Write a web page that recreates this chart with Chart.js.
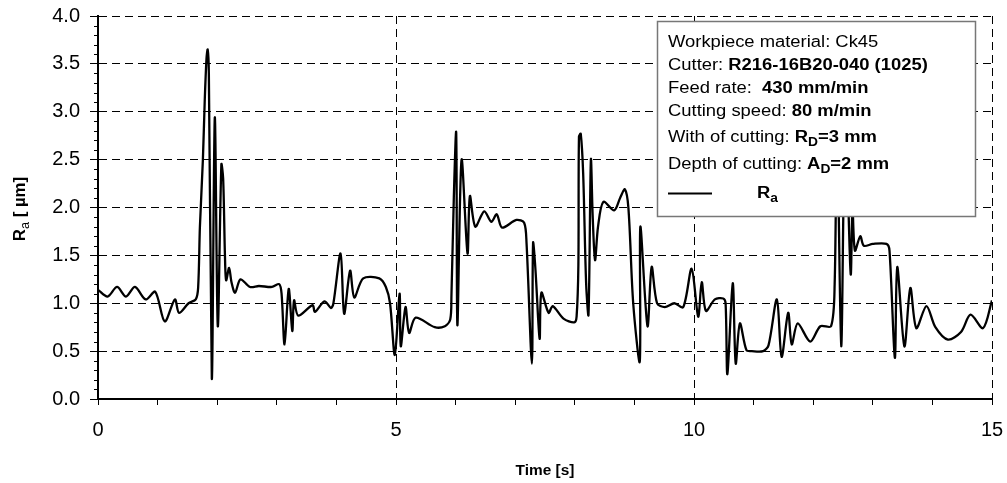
<!DOCTYPE html>
<html>
<head>
<meta charset="utf-8">
<script src="https://cdn.jsdelivr.net/npm/chart.js@4.4.1/dist/chart.umd.min.js"></script>
<style>
  html, body { margin: 0; padding: 0; background: #fff; }
  #raChart { display: block; }
</style>
</head>
<body>
<canvas id="raChart" width="1007" height="483"></canvas>
<script>
// === DATA ===
const timeS = [
  0.00, 0.16, 0.32, 0.47, 0.62, 0.80, 0.96, 1.12, 1.29, 1.36, 1.52, 1.64, 1.68, 1.71, 1.76, 1.79, 1.82, 1.84, 1.86, 1.91,
  1.96, 2.01, 2.07, 2.10, 2.13, 2.15, 2.20, 2.24, 2.30, 2.39, 2.55, 2.70, 2.92, 3.04, 3.08, 3.13, 3.20, 3.26, 3.29, 3.36,
  3.60, 3.64, 3.80, 3.91, 3.95, 4.07, 4.13, 4.23, 4.30, 4.45, 4.72, 4.83, 4.90, 4.98, 5.06, 5.08, 5.16, 5.22, 5.33, 5.65,
  5.82, 5.91, 5.93, 5.97, 6.01, 6.03, 6.10, 6.20, 6.24, 6.33, 6.48, 6.60, 6.69, 6.78, 7.02, 7.15, 7.19, 7.28, 7.30, 7.34,
  7.41, 7.44, 7.56, 7.63, 7.81, 7.99, 8.03, 8.06, 8.07, 8.10, 8.14, 8.19, 8.23, 8.27, 8.30, 8.34, 8.39, 8.48, 8.66, 8.76,
  8.84, 8.90, 8.98, 9.09, 9.10, 9.22, 9.29, 9.38, 9.51, 9.67, 9.82, 9.96, 10.07, 10.13, 10.20, 10.35, 10.49, 10.53, 10.56, 10.65,
  10.70, 10.77, 10.88, 10.97, 11.16, 11.25, 11.39, 11.47, 11.58, 11.64, 11.74, 11.95, 12.12, 12.30, 12.36, 12.40, 12.47, 12.53, 12.58, 12.63,
  12.66, 12.70, 12.79, 12.85, 13.00, 13.23, 13.28, 13.37, 13.41, 13.53, 13.63, 13.73, 13.90, 14.05, 14.26, 14.48, 14.64, 14.85, 15.00
];
const raUm = [
  1.14, 1.07, 1.17, 1.07, 1.17, 1.04, 1.12, 0.81, 1.04, 0.90, 1.00, 1.04, 1.16, 1.80, 2.50, 3.10, 3.55, 3.65, 3.40, 0.21,
  2.94, 0.76, 2.45, 2.30, 1.50, 1.24, 1.37, 1.22, 1.11, 1.25, 1.17, 1.18, 1.17, 1.20, 1.10, 0.57, 1.15, 0.71, 1.03, 0.87,
  0.98, 0.91, 1.02, 0.95, 1.00, 1.52, 0.89, 1.34, 1.06, 1.26, 1.26, 1.17, 1.00, 0.46, 1.10, 0.55, 0.96, 0.69, 0.85, 0.75,
  0.76, 0.83, 1.07, 2.10, 2.78, 0.77, 2.50, 1.52, 2.12, 1.80, 1.96, 1.85, 1.93, 1.79, 1.87, 1.84, 1.63, 0.37, 1.63, 1.35,
  0.63, 1.11, 0.90, 0.97, 0.84, 0.80, 0.86, 1.40, 2.74, 2.77, 2.36, 1.21, 0.88, 2.50, 1.91, 1.45, 1.80, 2.06, 1.97, 2.10,
  2.19, 1.99, 1.00, 0.39, 1.80, 0.76, 1.38, 1.00, 0.96, 1.00, 0.96, 1.36, 0.86, 1.22, 0.92, 1.04, 1.05, 1.00, 0.26, 1.21,
  0.37, 0.79, 0.51, 0.50, 0.50, 0.56, 1.04, 0.44, 0.90, 0.57, 0.79, 0.60, 0.76, 0.76, 1.20, 2.90, 0.55, 2.80, 2.20, 1.30,
  2.00, 1.55, 1.70, 1.60, 1.62, 1.62, 1.55, 0.43, 1.38, 0.55, 1.16, 0.74, 0.97, 0.75, 0.62, 0.70, 0.88, 0.74, 1.03
];

const xRange = [0, 15];
const yRange = [0, 4];
const xTickLabels = [0, 5, 10, 15];

// teks kotak keterangan (b = tebal, sub = subskrip)
const infoLines = [
  [{ t: 'Workpiece material: Ck45' }],
  [{ t: 'Cutter: ' }, { t: 'R216-16B20-040 (1025)', b: true }],
  [{ t: 'Feed rate:  ' }, { t: '430 mm/min', b: true }],
  [{ t: 'Cutting speed: ' }, { t: '80 m/min', b: true }],
  [{ t: 'With of cutting: ' }, { t: 'R', b: true }, { t: 'D', b: true, sub: true }, { t: '=3 mm', b: true }],
  [{ t: 'Depth of cutting: ' }, { t: 'A', b: true }, { t: 'D', b: true, sub: true }, { t: '=2 mm', b: true }]
];
const seriesLabel = [{ t: 'R', b: true }, { t: 'a', b: true, sub: true }];
const yTitle = [{ t: 'R', b: true }, { t: 'a', sub: true }, { t: ' [ \u00b5m]', b: true }];
const xTitle = [{ t: 'Time [s]', b: true }];

// === HELPER TEKS ===
const FONT = "'Liberation Sans', Arial, sans-serif";
const TEXT_SX = 1.15;

const richWidth = (ctx, segs, size, sx) => {
  let w = 0;
  segs.forEach(seg => {
    const fs = seg.sub ? Math.round(size * 0.72) : size;
    ctx.font = `${seg.b ? 'bold ' : ''}${fs}px ${FONT}`;
    w += ctx.measureText(seg.t).width * sx;
  });
  return w;
};

const drawRich = (ctx, segs, x, y, size, sx) => {
  let cx = x;
  segs.forEach(seg => {
    const fs = seg.sub ? Math.round(size * 0.72) : size;
    ctx.font = `${seg.b ? 'bold ' : ''}${fs}px ${FONT}`;
    const dy = seg.sub ? size * 0.25 : 0;
    ctx.save();
    ctx.translate(cx, y + dy);
    ctx.scale(sx, 1);
    ctx.fillText(seg.t, 0, 0);
    ctx.restore();
    cx += ctx.measureText(seg.t).width * sx;
  });
};

// === PLUGIN: tick kecil, judul sumbu, kotak keterangan ===
const extrasPlugin = {
  id: 'extras',
  afterDraw(chart) {
    const { ctx, chartArea } = chart;
    const yScale = chart.scales.y;

    // tick minor sumbu Y setiap 0.1
    ctx.save();
    ctx.strokeStyle = '#000';
    ctx.lineWidth = 1;
    for (let i = 1; i < 40; i++) {
      if (i % 5 === 0) continue;
      const py = Math.round(yScale.getPixelForValue(i / 10)) + 0.5;
      ctx.beginPath();
      ctx.moveTo(chartArea.left - 4, py);
      ctx.lineTo(chartArea.left, py);
      ctx.stroke();
    }
    ctx.restore();

    // judul sumbu
    ctx.save();
    ctx.fillStyle = '#000';
    ctx.textBaseline = 'alphabetic';
    const xw = richWidth(ctx, xTitle, 14, 1.1);
    drawRich(ctx, xTitle, (chartArea.left + chartArea.right) / 2 - xw / 2, 475, 14, 1.1);

    ctx.translate(25, 209);
    ctx.rotate(-Math.PI / 2);
    const yw = richWidth(ctx, yTitle, 16, 1.05);
    drawRich(ctx, yTitle, -yw / 2, 0, 16, 1.05);
    ctx.restore();
  },
  afterDatasetsDraw(chart) {
    const { ctx } = chart;
    const box = { left: 657.5, top: 21.5, right: 975.5, bottom: 216.5 };

    ctx.save();
    ctx.fillStyle = '#fff';
    ctx.fillRect(box.left, box.top, box.right - box.left, box.bottom - box.top);
    ctx.strokeStyle = '#777';
    ctx.lineWidth = 1.5;
    ctx.strokeRect(box.left, box.top, box.right - box.left, box.bottom - box.top);

    ctx.fillStyle = '#000';
    const baselines = [47, 70, 93, 116, 142, 169];
    infoLines.forEach((segs, i) => drawRich(ctx, segs, 668, baselines[i], 16, TEXT_SX));

    ctx.strokeStyle = '#000';
    ctx.lineWidth = 2;
    ctx.beginPath();
    ctx.moveTo(668, 193.5);
    ctx.lineTo(712, 193.5);
    ctx.stroke();
    drawRich(ctx, seriesLabel, 757, 198, 16, TEXT_SX);
    ctx.restore();
  }
};

// === GRAFIK ===
const points = timeS.map((t, i) => ({ x: t, y: raUm[i] }));

new Chart(document.getElementById('raChart'), {
  type: 'line',
  data: {
    datasets: [{
      label: 'Ra',
      data: points,
      borderColor: '#000',
      borderWidth: 2.3,
      pointRadius: 0,
      fill: false,
      tension: 0.3
    }]
  },
  options: {
    responsive: false,
    animation: false,
    devicePixelRatio: 1,
    layout: { padding: { left: 0, top: 16, right: 15, bottom: 0 } },
    plugins: {
      legend: { display: false },
      tooltip: { enabled: false }
    },
    scales: {
      x: {
        type: 'linear',
        min: xRange[0],
        max: xRange[1],
        afterFit: (scale) => {
          scale.height = 84;
          scale.paddingLeft = 0;
          scale.paddingRight = 0;
        },
        ticks: {
          stepSize: 1,
          autoSkip: false,
          maxRotation: 0,
          padding: 13,
          color: '#000',
          font: { family: FONT, size: 20 },
          callback: (v) => (xTickLabels.includes(v) ? String(v) : '')
        },
        grid: {
          color: (c) => (c.tick && c.tick.value % 5 === 0 && c.tick.value !== 0 ? '#000' : 'rgba(0,0,0,0)'),
          tickColor: '#000',
          tickLength: 6,
          lineWidth: 1
        },
        border: { display: true, color: '#000', width: 2, dash: [8, 5] }
      },
      y: {
        min: yRange[0],
        max: yRange[1],
        afterFit: (scale) => {
          scale.width = 98;
          scale.paddingTop = 0;
          scale.paddingBottom = 0;
        },
        ticks: {
          stepSize: 0.5,
          padding: 10,
          color: '#000',
          font: { family: FONT, size: 20 },
          callback: (v) => v.toFixed(1)
        },
        grid: {
          color: (c) => (c.tick && c.tick.value !== 0 ? '#000' : 'rgba(0,0,0,0)'),
          tickColor: '#000',
          tickLength: 8,
          lineWidth: 1
        },
        border: { display: true, color: '#000', width: 2, dash: [8, 5] }
      }
    }
  },
  plugins: [extrasPlugin]
});
</script>
</body>
</html>
